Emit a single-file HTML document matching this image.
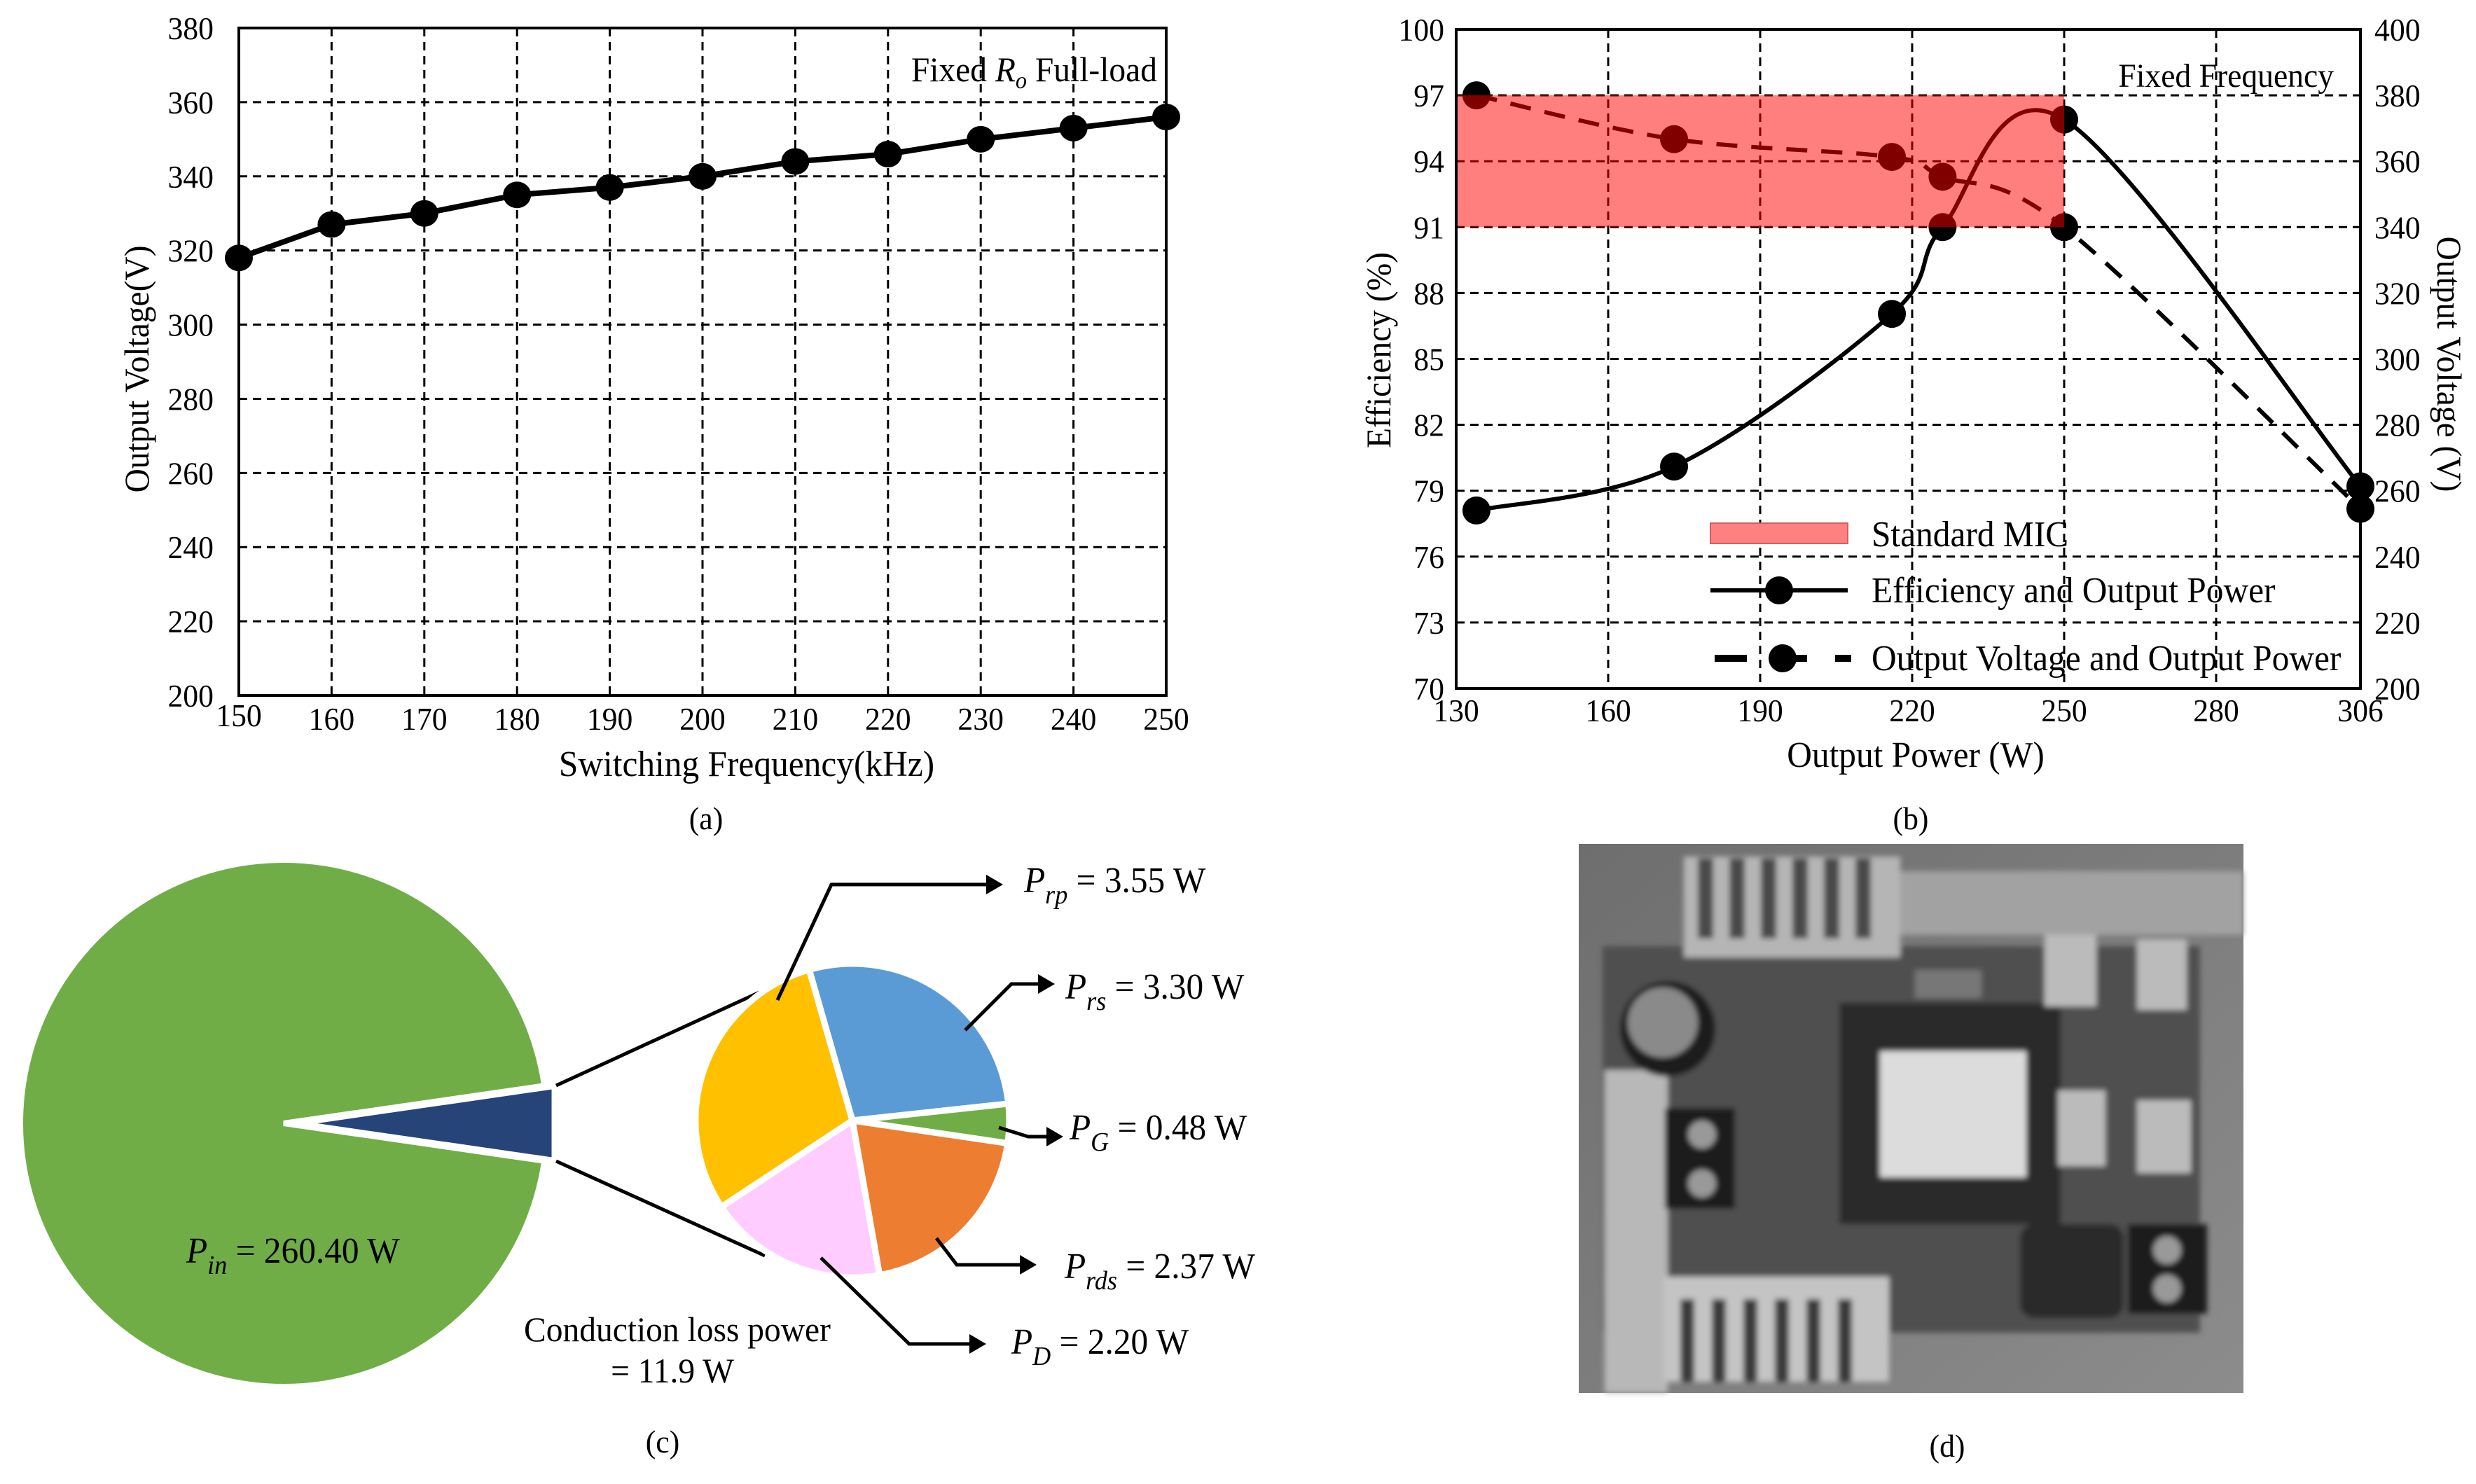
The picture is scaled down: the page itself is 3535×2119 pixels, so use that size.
<!DOCTYPE html>
<html><head><meta charset="utf-8"><style>
html,body{margin:0;padding:0;background:#fff;}
svg{display:block;font-family:"Liberation Serif",serif;}
</style></head><body>
<svg id="root" width="3535" height="2119" viewBox="0 0 3535 2119" xmlns="http://www.w3.org/2000/svg">
<g id="chartA"></g>
<g id="chartB"></g>
<g id="chartC"></g>
<g id="photoD" transform="translate(2254,1205)">
  <defs><filter id="bl"><feGaussianBlur stdDeviation="4"/></filter>
  <linearGradient id="bgG" x1="0" y1="0" x2="1" y2="1"><stop offset="0" stop-color="#6e6e6e"/><stop offset="1" stop-color="#8c8c8c"/></linearGradient></defs>
  <rect width="949" height="784" fill="url(#bgG)"/>
  <g filter="url(#bl)">
  <rect x="459" y="39" width="490" height="91" fill="#a2a2a2"/>
  <rect x="34" y="146" width="853" height="552" fill="#505050"/>
  <rect x="37" y="323" width="90" height="461" fill="#b8b8b8"/>
  <rect x="150" y="18" width="309" height="144" fill="#b5b5b5"/>
  <g fill="#4a4a4a"><rect x="170" y="20" width="22" height="115"/><rect x="215" y="20" width="22" height="115"/><rect x="260" y="20" width="22" height="115"/><rect x="305" y="20" width="22" height="115"/><rect x="350" y="20" width="22" height="115"/><rect x="395" y="20" width="22" height="115"/></g>
  <circle cx="127" cy="264" r="68" fill="#1c1c1c"/>
  <circle cx="120" cy="255" r="50" fill="#8a8a8a"/>
  <rect x="372" y="227" width="316" height="316" fill="#2a2a2a"/>
  <rect x="430" y="296" width="209" height="180" fill="#dcdcdc"/>
  <rect x="123" y="377" width="100" height="144" fill="#1e1e1e"/>
  <circle cx="176" cy="415" r="20" fill="#999"/><circle cx="176" cy="485" r="20" fill="#999"/>
  <rect x="121" y="618" width="322" height="150" fill="#c4c4c4"/>
  <g fill="#3a3a3a"><rect x="145" y="650" width="20" height="118"/><rect x="190" y="650" width="20" height="118"/><rect x="235" y="650" width="20" height="118"/><rect x="280" y="650" width="20" height="118"/><rect x="325" y="650" width="20" height="118"/><rect x="370" y="650" width="20" height="118"/></g>
  <rect x="630" y="543" width="148" height="134" rx="20" fill="#2a2a2a"/>
  <rect x="784" y="543" width="113" height="128" fill="#1e1e1e"/>
  <circle cx="840" cy="580" r="20" fill="#999"/><circle cx="840" cy="635" r="20" fill="#999"/>
  <rect x="665" y="130" width="74" height="102" fill="#bbb"/><rect x="797" y="136" width="71" height="101" fill="#bbb"/>
  <rect x="684" y="352" width="68" height="108" fill="#bbb"/><rect x="797" y="366" width="77" height="104" fill="#bbb"/>
  <rect x="480" y="180" width="95" height="40" fill="#777"/>
  </g>
</g>
</svg>
<script>
const NS="http://www.w3.org/2000/svg";
function mk(parent,tag,attrs,txt){const e=document.createElementNS(NS,tag);for(const k in attrs)e.setAttribute(k,attrs[k]);if(txt!==undefined)e.textContent=txt;parent.appendChild(e);return e;}
const SX=0.95;
function txt(parent,x,y,size,anchor,content,html,rot){
  const t=mk(parent,'text',{x:0,y:0,'font-size':size,'text-anchor':anchor,
    transform:`translate(${x},${y})`+(rot?` rotate(${rot})`:'')+` scale(${SX},1)`});
  if(html)t.innerHTML=content;else t.textContent=content;
  return t;
}

/* ---------- Chart A data ---------- */
const aFreq=[150,160,170,180,190,200,210,220,230,240,250];
const aVolt=[318,327,330,335,337,340,344,346,350,353,356];
const aYTicks=[200,220,240,260,280,300,320,340,360,380];
const aXTicks=[150,160,170,180,190,200,210,220,230,240,250];

/* ---------- Chart B data ---------- */
const bPower=[134,173,216,226,250,306];
const bEff=[78.1,80.1,87.05,91,95.9,79.2];
const bVolt=[380,366.7,361.3,355.3,340,254.5];
const bEffTicks=[70,73,76,79,82,85,88,91,94,97,100];
const bVoltTicks=[200,220,240,260,280,300,320,340,360,380,400];
const bXTicks=[130,160,190,220,250,280,306];
const bMicRange=[130,250,91,97];

/* ---------- Chart C data ---------- */
const cNames=["P_rs","P_G","P_rds","P_D","P_rp"];
const cValues=[3.30,0.48,2.37,2.20,3.55];
const cColors=["#5b9bd5","#70ad47","#ed7d31","#ffccff","#ffc000"];
const cTotalIn=260.40;
const cLoss=11.9;

/* ===== Chart A ===== */
(function(){
const g=document.getElementById('chartA');
const L=341,R=1665,T=40,B=993;
const x=v=>L+(v-150)/100*(R-L);
const y=v=>B-(v-200)/180*(B-T);
aYTicks.forEach(t=>{
  if(t>200&&t<380){const l=mk(g,'line',{x1:L,x2:R,y1:y(t),y2:y(t),stroke:'#000','stroke-width':3,'stroke-dasharray':'12,8'});
  }
  const tx=txt(g,305,y(t)+16,46,'end',String(t));
  
});
aXTicks.forEach(t=>{
  if(t>150&&t<250){const l=mk(g,'line',{x1:x(t),x2:x(t),y1:T,y2:B,stroke:'#000','stroke-width':3,'stroke-dasharray':'12,8'});
  }
  const tx=txt(g,x(t),t===150?1037:1042,46,'middle',String(t));
  
});
const fr=mk(g,'rect',{x:L,y:T,width:R-L,height:B-T,fill:'none',stroke:'#000','stroke-width':4});

const pts=aFreq.map((f,i)=>x(f)+','+y(aVolt[i])).join(' ');
const pl=mk(g,'polyline',{points:pts,fill:'none',stroke:'#000','stroke-width':8});

aFreq.forEach((f,i)=>{const c=mk(g,'ellipse',{cx:x(f),cy:y(aVolt[i]),rx:20,ry:19,fill:'#000'});
});
const tt=txt(g,1652,116,50,'end','Fixed <tspan font-style="italic">R</tspan><tspan font-style="italic" font-size="34" dy="10">o</tspan><tspan dy="-10"> Full-load</tspan>',true);

const yt=txt(g,212,527,50,'middle','Output Voltage(V)',false,-90);

const xt=txt(g,1066,1108,52,'middle','Switching Frequency(kHz)');

const la=txt(g,1008,1184,46,'middle','(a)');

})();

/* ===== Chart B ===== */
(function(){
const g=document.getElementById('chartB');
const L=2079,R=3370,T=42,B=983;
const step=217/30;
const x=v=>v<=280?L+(v-130)*step:L+150*step+(v-280)/26*(R-(L+150*step));
const ye=v=>B-(v-70)/30*(B-T);
const yv=v=>B-(v-200)/200*(B-T);
bEffTicks.forEach((t,i)=>{
  if(t>70&&t<100){const l=mk(g,'line',{x1:L,x2:R,y1:ye(t),y2:ye(t),stroke:'#000','stroke-width':3,'stroke-dasharray':'12,8'});
  }
  const tx=txt(g,2062,ye(t)+16,46,'end',String(t));
  
});
bVoltTicks.forEach(t=>{
  const tx=txt(g,3390,yv(t)+16,46,'start',String(t));
  
});
bXTicks.forEach(t=>{
  if(t>130&&t<306){const l=mk(g,'line',{x1:x(t),x2:x(t),y1:T,y2:B,stroke:'#000','stroke-width':3,'stroke-dasharray':'12,8'});
  }
  const tx=txt(g,x(t),1030,46,'middle',String(t));
  
});
function spline(px,py){
  let d='M'+px[0]+','+py[0];
  for(let i=0;i<px.length-1;i++){
    const x0=px[Math.max(i-1,0)],y0=py[Math.max(i-1,0)],x1=px[i],y1=py[i],x2=px[i+1],y2=py[i+1],x3=px[Math.min(i+2,px.length-1)],y3=py[Math.min(i+2,px.length-1)];
    const c1x=x1+(x2-x0)/6,c1y=y1+(y2-y0)/6,c2x=x2-(x3-x1)/6,c2y=y2-(y3-y1)/6;
    d+=' C'+c1x+','+c1y+' '+c2x+','+c2y+' '+x2+','+y2;
  }
  return d;
}
const ex=bPower.map(x),ey=bEff.map(ye),vy=bVolt.map(yv);
const el=mk(g,'path',{d:spline(ex,ey),fill:'none',stroke:'#000','stroke-width':6});

const vl=mk(g,'path',{d:spline(ex,vy),fill:'none',stroke:'#000','stroke-width':6,'stroke-dasharray':'30,20'});

bPower.forEach((p,i)=>{
  const c=mk(g,'circle',{cx:x(p),cy:ye(bEff[i]),r:20,fill:'#000'});
  
  const d=mk(g,'circle',{cx:x(p),cy:yv(bVolt[i]),r:20,fill:'#000'});
  
});
const mic=mk(g,'rect',{x:x(bMicRange[0]),y:ye(bMicRange[3]),width:x(bMicRange[1])-x(bMicRange[0]),height:ye(bMicRange[2])-ye(bMicRange[3]),fill:'#ff0000','fill-opacity':0.5});

const fr=mk(g,'rect',{x:L,y:T,width:R-L,height:B-T,fill:'none',stroke:'#000','stroke-width':4});

const ff=txt(g,3332,124,48,'end','Fixed Frequency');

const lg=mk(g,'g',{});

const lr=mk(lg,'rect',{x:2442,y:747,width:196,height:29,fill:'#ff8080',stroke:'#d06060','stroke-width':2});

const t1=txt(lg,2672,780,52,'start','Standard MIC');

const l2=mk(lg,'line',{x1:2442,x2:2638,y1:843,y2:843,stroke:'#000','stroke-width':6});

mk(lg,'circle',{cx:2540,cy:843,r:20,fill:'#000'});
const t2=txt(lg,2672,860,52,'start','Efficiency and Output Power');

const l3=mk(lg,'line',{x1:2448,x2:2643,y1:940,y2:940,stroke:'#000','stroke-width':10,'stroke-dasharray':'46,40'});

mk(lg,'circle',{cx:2545,cy:940,r:20,fill:'#000'});
const t3=txt(lg,2672,957,52,'start','Output Voltage and Output Power');

const yl=txt(g,1985,500,50,'middle','Efficiency (%)',false,-90);

const yr=txt(g,3480,520,50,'middle','Output Voltage (V)',false,90);

const xt=txt(g,2735,1095,52,'middle','Output Power (W)');

const lb=txt(g,2728,1184,46,'middle','(b)');

})();

/* ===== Chart C ===== */
(function(){
const g=document.getElementById('chartC');
const bx=405,by=1604,br=376;
const half=cLoss/cTotalIn*Math.PI;
const p=(cx,cy,r,a)=>[cx+r*Math.cos(a),cy+r*Math.sin(a)];
const a1=p(bx,by,br,-half),a2=p(bx,by,br,half);
const big=mk(g,'path',{d:`M${bx},${by} L${a1[0]},${a1[1]} A${br},${br} 0 1 0 ${a2[0]},${a2[1]} Z`,fill:'#70ad47',stroke:'#fff','stroke-width':8});

const off=48,lr=br-10;
const w1=p(bx+off,by,lr-off+20,-half),w2=p(bx+off,by,lr-off+20,half);
const wedge=mk(g,'path',{d:`M${bx+off},${by} L${w1[0]},${w1[1]} L${w2[0]},${w2[1]} Z`,fill:'#264478'});

const c1=mk(g,'line',{x1:794,y1:1550,x2:1084,y2:1417,stroke:'#000','stroke-width':5});

const c2=mk(g,'line',{x1:794,y1:1658,x2:1092,y2:1793,stroke:'#000','stroke-width':5});

const sx=1217,sy=1600,sr=224;
const total=cValues.reduce((a,b)=>a+b,0);
let ang=-16/180*Math.PI-Math.PI/2;
cValues.forEach((v,i)=>{
  const sweep=v/total*2*Math.PI;
  const s=p(sx,sy,sr,ang),e=p(sx,sy,sr,ang+sweep);
  const pa=mk(g,'path',{d:`M${sx},${sy} L${s[0]},${s[1]} A${sr},${sr} 0 ${sweep>Math.PI?1:0} 1 ${e[0]},${e[1]} Z`,fill:cColors[i],stroke:'#fff','stroke-width':9});
  
  
  ang+=sweep;
});
function arrow(pts,name){
  const pl=mk(g,'polyline',{points:pts.map(q=>q.join(',')).join(' '),fill:'none',stroke:'#000','stroke-width':5});
  
  const [x2,y2]=pts[pts.length-1];
  const h=mk(g,'polygon',{points:`${x2+4},${y2} ${x2-20},${y2-14} ${x2-20},${y2+14}`,fill:'#000'});
  
}
arrow([[1110,1428],[1187,1263],[1428,1263]],'leader-prp');
arrow([[1378,1471],[1444,1405],[1502,1405]],'leader-prs');
arrow([[1426,1610],[1468,1623],[1514,1623]],'leader-pg');
arrow([[1337,1768],[1366,1806],[1476,1806]],'leader-prds');
arrow([[1172,1796],[1298,1919],[1404,1919]],'leader-pd');
function lab(xx,yy,sub,val,name){
  const t=txt(g,xx,yy,52,'start',`<tspan font-style="italic">P</tspan><tspan font-style="italic" font-size="38" dy="16">${sub}</tspan><tspan dy="-16"> = ${val}</tspan>`,true);
  
}
lab(1462,1274,'rp',cValues[4].toFixed(2)+' W','label-prp');
lab(1521,1426,'rs',cValues[0].toFixed(2)+' W','label-prs');
lab(1527,1627,'G',cValues[1].toFixed(2)+' W','label-pg');
lab(1520,1825,'rds',cValues[2].toFixed(2)+' W','label-prds');
lab(1444,1933,'D',cValues[3].toFixed(2)+' W','label-pd');
lab(266,1803,'in',cTotalIn.toFixed(2)+' W','label-pin');
const ct=txt(g,967,1915,50,'middle','Conduction loss power');

const cv=txt(g,960,1974,50,'middle','= '+cLoss+' W');

const lc=txt(g,946,2074,46,'middle','(c)');

})();
const root=document.getElementById('root');
const ld=txt(root,2780,2080,46,'middle','(d)');

</script>
</body></html>
